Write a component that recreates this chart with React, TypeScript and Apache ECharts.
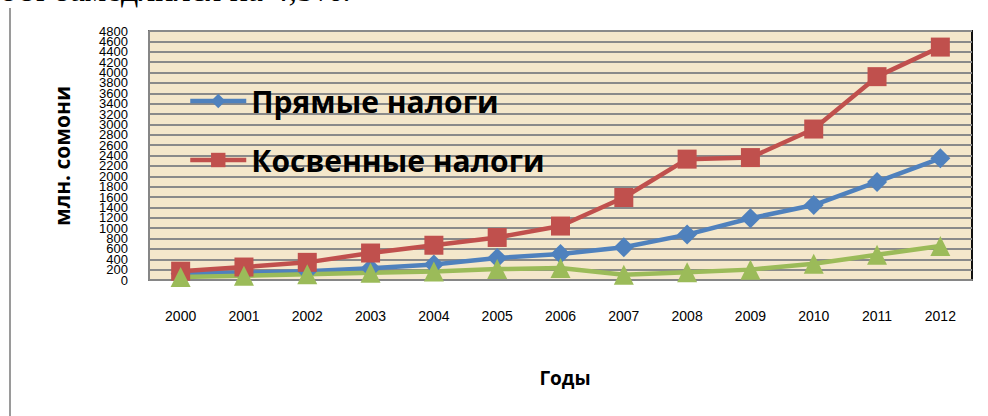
import React, { useEffect, useRef } from "react";
import * as echarts from "echarts";

const years = ["2000", "2001", "2002", "2003", "2004", "2005", "2006", "2007", "2008", "2009", "2010", "2011", "2012"];
const directTaxes = [120, 140, 170, 225, 300, 425, 500, 630, 875, 1190, 1445, 1890, 2345];
const indirectTaxes = [170, 250, 340, 520, 670, 820, 1040, 1590, 2330, 2360, 2910, 3920, 4490];
const otherSeries = [60, 80, 110, 140, 165, 210, 230, 100, 150, 200, 315, 485, 655];
const yTickLabels = ["0", "200", "400", "600", "800", "1000", "1200", "1400", "1600", "1800", "2000", "2200", "2400", "2600", "2800", "3000", "3200", "3400", "3600", "3800", "4000", "4200", "4400", "4600", "4800"];
const seriesNames = ["Прямые налоги", "Косвенные налоги", ""];
const yAxisTitle = "млн. сомони";
const xAxisTitle = "Годы";
const topText = "ост замедлился на 4,5%.";

export default function App() {
  const ref = useRef<HTMLDivElement>(null);
  useEffect(() => {
    if (!ref.current) return;
    const chart = echarts.init(ref.current, null, { renderer: "svg" });
    const lineW = 4.5;
    chart.setOption({
      animation: false,
      backgroundColor: "#ffffff",
      grid: {
        left: 149,
        top: 31,
        right: 16,
        bottom: 136,
        show: true,
        backgroundColor: "#F4E7CB",
        borderColor: "#111111",
        borderWidth: 2,
      },
      legend: {
        data: [seriesNames[0], seriesNames[1]],
        orient: "vertical",
        left: 183,
        top: 80,
        itemWidth: 56,
        itemHeight: 18,
        itemGap: 27,
        lineStyle: { width: 4.5 },
        textStyle: {
          fontFamily: "Open Sans",
          fontWeight: "bold",
          fontSize: 30,
          lineHeight: 32,
          color: "#000000",
        },
      },
      xAxis: {
        type: "category",
        data: years,
        boundaryGap: true,
        axisLine: { show: true, lineStyle: { color: "#868686", width: 2 } },
        axisTick: { show: false },
        axisLabel: {
          margin: 29,
          fontFamily: "Liberation Sans",
          fontSize: 14,
          color: "#000000",
        },
        splitLine: { show: false },
      },
      yAxis: [
        {
          type: "value",
          min: 0,
          max: 4800,
          interval: 200,
          axisLine: { show: true, lineStyle: { color: "#868686", width: 2 } },
          axisTick: { show: false },
          axisLabel: { show: false },
          splitLine: { show: true, lineStyle: { color: "#8a8a8a", width: 1.8 } },
        },
        {
          type: "category",
          position: "left",
          data: yTickLabels,
          boundaryGap: false,
          axisLine: { show: false },
          axisTick: { show: false },
          splitLine: { show: false },
          axisLabel: {
            interval: 0,
            margin: 21,
            fontFamily: "Liberation Sans",
            fontSize: 13,
            lineHeight: 10,
            color: "#000000",
          },
        },
      ],
      series: [
        {
          name: seriesNames[0],
          type: "line",
          yAxisIndex: 0,
          data: directTaxes,
          symbol: "diamond",
          symbolSize: 20,
          clip: false,
          lineStyle: { color: "#4F81BD", width: lineW },
          itemStyle: { color: "#4F81BD" },
        },
        {
          name: seriesNames[1],
          type: "line",
          yAxisIndex: 0,
          data: indirectTaxes,
          symbol: "rect",
          symbolSize: 19,
          clip: false,
          lineStyle: { color: "#C0504D", width: lineW },
          itemStyle: { color: "#C0504D" },
        },
        {
          name: "Прочие",
          type: "line",
          yAxisIndex: 0,
          data: otherSeries,
          symbol: "triangle",
          symbolSize: 20,
          clip: false,
          lineStyle: { color: "#9BBB59", width: lineW },
          itemStyle: { color: "#9BBB59" },
        },
      ],
      graphic: [
        {
          type: "line",
          shape: { x1: 10, y1: 8, x2: 10, y2: 416 },
          style: { stroke: "#9a9a9a", lineWidth: 2 },
        },
        {
          type: "text",
          x: 0,
          y: 6,
          style: {
            text: topText,
            fontFamily: "Liberation Serif",
            fontSize: 34,
            fill: "#000000",
            textAlign: "left",
            textVerticalAlign: "bottom",
          },
        },
        {
          type: "text",
          x: 62,
          y: 156,
          rotation: Math.PI / 2,
          style: {
            text: yAxisTitle,
            fontFamily: "Open Sans",
            fontWeight: "bold",
            fontSize: 21,
            fill: "#000000",
            textAlign: "center",
            textVerticalAlign: "middle",
          },
        },
        {
          type: "text",
          x: 565,
          y: 378,
          style: {
            text: xAxisTitle,
            fontFamily: "Open Sans",
            fontWeight: "bold",
            fontSize: 19,
            fill: "#000000",
            textAlign: "center",
            textVerticalAlign: "middle",
          },
        },
      ],
    });
    return () => chart.dispose();
  }, []);
  return (
    <div
      ref={ref}
      style={{ position: "absolute", left: 0, top: 0, width: 988, height: 416 }}
    />
  );
}
